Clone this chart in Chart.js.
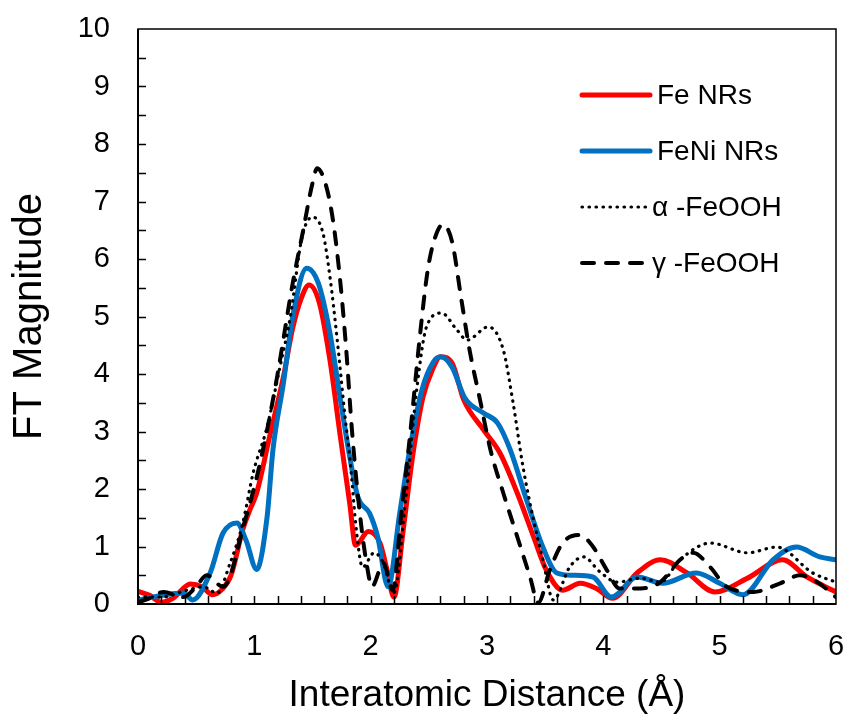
<!DOCTYPE html>
<html>
<head>
<meta charset="utf-8">
<script src="https://cdn.jsdelivr.net/npm/chart.js@4/dist/chart.umd.min.js"></script>
<style>
  html, body { margin: 0; padding: 0; background: #fff; }
  canvas { display: block; }
</style>
</head>
<body>
<canvas id="ft-chart" width="849" height="721"></canvas>
<script>
// series (x in Å, y = FT magnitude)
const feX = [0, 0.1, 0.2, 0.3, 0.45, 0.55, 0.64, 0.72, 0.8, 0.9, 0.96, 1.02, 1.13, 1.25, 1.33, 1.4, 1.47, 1.56, 1.65, 1.74, 1.82, 1.87, 1.98, 2.08, 2.14, 2.2, 2.28, 2.36, 2.45, 2.53, 2.6, 2.7, 2.8, 2.97, 3.11, 3.26, 3.4, 3.51, 3.65, 3.8, 3.94, 4.08, 4.29, 4.49, 4.72, 4.96, 5.24, 5.54, 5.75, 6];
const feY = [0.22, 0.15, 0.03, 0.1, 0.35, 0.3, 0.16, 0.25, 0.5, 1.29, 1.63, 1.93, 2.9, 3.95, 4.8, 5.3, 5.55, 5.23, 4.24, 2.9, 1.75, 1.02, 1.26, 1.06, 0.6, 0.12, 1.29, 2.56, 3.6, 4.07, 4.3, 4.19, 3.55, 3.03, 2.63, 1.93, 1.17, 0.59, 0.24, 0.36, 0.27, 0.1, 0.54, 0.77, 0.54, 0.21, 0.45, 0.77, 0.47, 0.21];

const feniX = [0, 0.2, 0.39, 0.47, 0.62, 0.73, 0.85, 0.93, 1.02, 1.11, 1.16, 1.25, 1.33, 1.45, 1.55, 1.65, 1.74, 1.82, 1.89, 1.99, 2.06, 2.15, 2.25, 2.34, 2.44, 2.54, 2.6, 2.7, 2.81, 2.97, 3.09, 3.2, 3.34, 3.48, 3.6, 3.74, 3.91, 4.07, 4.29, 4.51, 4.8, 5.0, 5.2, 5.46, 5.66, 5.86, 6];
const feniY = [0.07, 0.15, 0.19, 0.07, 0.54, 1.23, 1.41, 1.1, 0.6, 1.52, 2.68, 3.84, 5.0, 5.84, 5.58, 4.71, 3.55, 2.56, 1.86, 1.58, 1.17, 0.3, 1.58, 2.73, 3.72, 4.21, 4.3, 4.12, 3.58, 3.32, 3.15, 2.68, 1.81, 0.99, 0.54, 0.5, 0.47, 0.12, 0.47, 0.36, 0.54, 0.36, 0.16, 0.77, 0.99, 0.82, 0.77];

const alphaX = [0, 0.2, 0.42, 0.56, 0.68, 0.79, 0.9, 0.99, 1.11, 1.22, 1.31, 1.41, 1.5, 1.59, 1.65, 1.71, 1.78, 1.82, 1.88, 1.93, 2.03, 2.1, 2.2, 2.3, 2.4, 2.48, 2.61, 2.74, 2.83, 3.01, 3.14, 3.22, 3.31, 3.4, 3.48, 3.57, 3.71, 3.83, 3.97, 4.12, 4.32, 4.49, 4.66, 4.92, 5.24, 5.49, 5.8, 6];
const alphaY = [0.12, 0.12, 0.24, 0.3, 0.19, 0.7, 1.4, 2.28, 3.08, 4.12, 5.0, 6.38, 6.73, 6.45, 5.69, 4.64, 3.25, 2.56, 1.23, 0.64, 0.89, 0.75, 0.2, 1.8, 3.8, 4.82, 5.06, 4.77, 4.59, 4.82, 4.42, 3.55, 2.38, 1.46, 0.77, 0.07, 0.64, 0.82, 0.56, 0.38, 0.45, 0.38, 0.77, 1.06, 0.89, 0.99, 0.54, 0.38];

const gammaX = [0, 0.1, 0.22, 0.39, 0.5, 0.59, 0.73, 0.79, 0.9, 1.02, 1.11, 1.2, 1.33, 1.42, 1.5, 1.54, 1.62, 1.68, 1.74, 1.79, 1.84, 1.91, 1.97, 2.01, 2.11, 2.19, 2.26, 2.34, 2.42, 2.49, 2.55, 2.62, 2.7, 2.78, 2.85, 2.94, 3.03, 3.14, 3.26, 3.37, 3.44, 3.54, 3.65, 3.8, 3.91, 4.03, 4.14, 4.32, 4.49, 4.66, 4.77, 4.92, 5.06, 5.29, 5.52, 5.69, 5.84, 6];
const gammaY = [0.03, 0.1, 0.21, 0.12, 0.3, 0.5, 0.3, 0.47, 1.3, 2.2, 3.03, 4.0, 5.58, 6.5, 7.32, 7.58, 7.25, 6.62, 5.58, 4.42, 3.0, 1.52, 0.64, 0.3, 0.71, 0.24, 1.5, 2.97, 4.6, 5.8, 6.35, 6.6, 6.3, 5.29, 4.42, 3.55, 2.68, 1.93, 1.17, 0.47, 0.02, 0.59, 1.06, 1.2, 1.0, 0.59, 0.27, 0.27, 0.38, 0.77, 0.89, 0.64, 0.3, 0.21, 0.36, 0.5, 0.38, 0.12];

const seriesLabels = ['Fe NRs', 'FeNi NRs', '\u03B1 -FeOOH', '\u03B3 -FeOOH'];
const xTicks = [0, 1, 2, 3, 4, 5, 6];
const yTicks = [0, 1, 2, 3, 4, 5, 6, 7, 8, 9, 10];

const FONT = "'Liberation Sans', Arial, sans-serif";

function pts(xs, ys) {
    return xs.map((x, i) => ({ x: x, y: ys[i] }));
}

// inward minor ticks + box frame, drawn like the Excel original
const frameTicks = {
    id: 'frameTicks',
    afterDatasetsDraw(chart) {
        const { ctx, chartArea: a, scales: { x, y } } = chart;
        ctx.save();
        ctx.strokeStyle = '#000';
        ctx.lineWidth = 1.5;
        ctx.strokeRect(a.left, a.top, a.right - a.left, a.bottom - a.top);
        ctx.lineWidth = 2;
        ctx.beginPath();
        ctx.moveTo(a.left, a.top);
        ctx.lineTo(a.left, a.bottom);
        ctx.lineTo(a.right, a.bottom);
        ctx.stroke();
        ctx.lineWidth = 1.5;
        ctx.beginPath();
        for (let i = 1; i < 30; i++) {
            const px = Math.round(x.getPixelForValue(i * 0.2)) + 0.5;
            ctx.moveTo(px, a.bottom);
            ctx.lineTo(px, a.bottom - 8);
        }
        for (let j = 1; j < 20; j++) {
            const py = Math.round(y.getPixelForValue(j * 0.5)) + 0.5;
            ctx.moveTo(a.left, py);
            ctx.lineTo(a.left + 8, py);
        }
        ctx.stroke();
        ctx.restore();
    }
};

// legend inside the plot, Excel style
const insideLegend = {
    id: 'insideLegend',
    afterDraw(chart) {
        const ctx = chart.ctx;
        const rows = [95, 151, 207, 263];
        ctx.save();
        ctx.font = '28px ' + FONT;
        ctx.fillStyle = '#000';
        ctx.textBaseline = 'middle';
        chart.data.datasets.forEach((ds, i) => {
            const yy = rows[i];
            ctx.strokeStyle = ds.borderColor;
            ctx.lineWidth = ds.borderWidth;
            ctx.lineCap = ds.borderCapStyle || 'butt';
            ctx.setLineDash(ds.borderDash || []);
            ctx.beginPath();
            ctx.moveTo(582, yy);
            ctx.lineTo(650, yy);
            ctx.stroke();
            ctx.setLineDash([]);
            ctx.fillText(ds.label, i < 2 ? 657 : 652, yy + 1);
        });
        ctx.restore();
    }
};

const ctx = document.getElementById('ft-chart').getContext('2d');
new Chart(ctx, {
    type: 'line',
    data: {
        datasets: [
            {
                label: seriesLabels[0],
                data: pts(feX, feY),
                borderColor: '#FF0000',
                borderWidth: 5,
                borderCapStyle: 'round',
                order: 4
            },
            {
                label: seriesLabels[1],
                data: pts(feniX, feniY),
                borderColor: '#0070C0',
                borderWidth: 5,
                borderCapStyle: 'round',
                order: 3
            },
            {
                label: seriesLabels[2],
                data: pts(alphaX, alphaY),
                borderColor: '#000',
                borderWidth: 3.2,
                borderCapStyle: 'round',
                borderDash: [0.5, 6.5],
                order: 2
            },
            {
                label: seriesLabels[3],
                data: pts(gammaX, gammaY),
                borderColor: '#000',
                borderWidth: 4,
                borderCapStyle: 'round',
                borderDash: [12, 12],
                order: 1
            }
        ]
    },
    options: {
        responsive: false,
        animation: false,
        parsing: false,
        elements: {
            point: { radius: 0 },
            line: { cubicInterpolationMode: 'monotone', fill: false, borderJoinStyle: 'round' }
        },
        layout: { padding: { top: 29, right: 13, left: 0, bottom: 0 } },
        plugins: {
            legend: { display: false },
            tooltip: { enabled: false }
        },
        scales: {
            x: {
                type: 'linear',
                min: 0,
                max: 6,
                afterBuildTicks: s => { s.ticks = xTicks.map(v => ({ value: v })); },
                ticks: { color: '#000', font: { family: FONT, size: 29 }, padding: 26, maxRotation: 0 },
                grid: { display: false, drawTicks: false },
                border: { display: false },
                title: {
                    display: true,
                    text: 'Interatomic Distance (\u00C5)',
                    color: '#000',
                    font: { family: FONT, size: 37 },
                    padding: { top: 0, bottom: 3 }
                },
                afterFit: s => {
                    s.height = 117;
                    s.paddingLeft = 0;
                    s.paddingRight = 0;
                }
            },
            y: {
                type: 'linear',
                min: 0,
                max: 10,
                afterBuildTicks: s => { s.ticks = yTicks.map(v => ({ value: v })); },
                ticks: { color: '#000', font: { family: FONT, size: 29 }, padding: 28 },
                grid: { display: false, drawTicks: false },
                border: { display: false },
                title: {
                    display: true,
                    text: 'FT Magnitude',
                    color: '#000',
                    font: { family: FONT, size: 40 },
                    padding: { top: 6, bottom: 0 }
                },
                afterFit: s => {
                    s.width = 138;
                    s.paddingTop = 0;
                    s.paddingBottom = 0;
                }
            }
        }
    },
    plugins: [frameTicks, insideLegend]
});
</script>
</body>
</html>
